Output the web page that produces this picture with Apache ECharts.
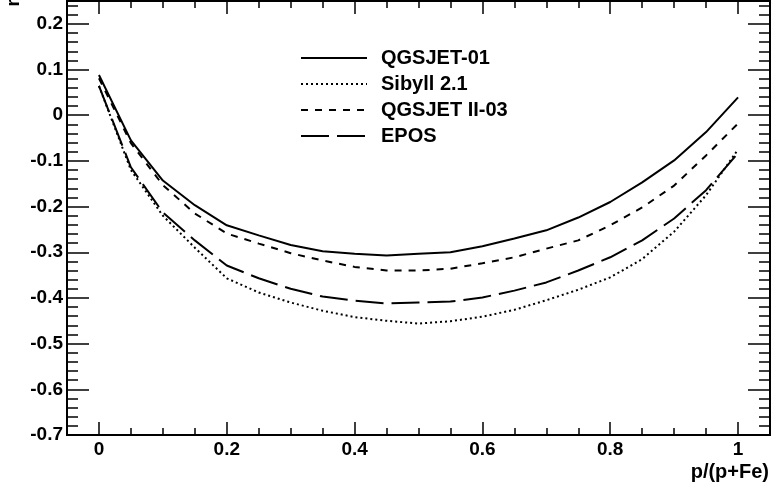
<!DOCTYPE html>
<html>
<head>
<meta charset="utf-8">
<script src="https://cdn.jsdelivr.net/npm/echarts@6/dist/echarts.min.js"></script>
<style>
  html, body { margin: 0; padding: 0; background: #fff; }
  #chart { width: 772px; height: 484px; }
</style>
</head>
<body>
<div id="chart"></div>
<script>
// fraction of protons, p/(p+Fe)
const xValues = [0, 0.05, 0.1, 0.15, 0.2, 0.25, 0.3, 0.35, 0.4, 0.45, 0.5,
  0.55, 0.6, 0.65, 0.7, 0.75, 0.8, 0.85, 0.9, 0.95, 1];

const qgsjet01 = [0.088, -0.055, -0.143, -0.197, -0.241, -0.263, -0.284, -0.298, -0.303, -0.307, -0.303,
  -0.300, -0.287, -0.270, -0.252, -0.224, -0.190, -0.147, -0.099, -0.037, 0.039];
const sibyll21 = [0.064, -0.120, -0.220, -0.290, -0.357, -0.388, -0.410, -0.428, -0.442, -0.450, -0.456,
  -0.451, -0.441, -0.426, -0.405, -0.382, -0.355, -0.315, -0.255, -0.175, -0.075];
const qgsjet2 = [0.081, -0.061, -0.153, -0.215, -0.259, -0.281, -0.302, -0.318, -0.332, -0.340, -0.340,
  -0.336, -0.324, -0.311, -0.292, -0.274, -0.241, -0.202, -0.154, -0.088, -0.018];
const epos = [0.064, -0.114, -0.213, -0.274, -0.329, -0.357, -0.380, -0.397, -0.406, -0.412, -0.410,
  -0.408, -0.399, -0.384, -0.366, -0.340, -0.311, -0.274, -0.226, -0.164, -0.083];

const seriesNames = ['QGSJET-01', 'Sibyll 2.1', 'QGSJET II-03', 'EPOS'];
const xTickValues = [0, 0.2, 0.4, 0.6, 0.8, 1];

const font = 'Liberation Sans';

function pairs(ys) {
  return xValues.map((x, i) => [x, ys[i]]);
}

function xAxisDef(position, major) {
  return {
    type: 'value',
    position: position,
    min: -0.05,
    max: 1.05,
    interval: major ? undefined : 0.05,
    axisLine: { show: false, onZero: false },
    splitLine: { show: false },
    axisTick: {
      show: true,
      inside: true,
      length: major ? 13 : 7,
      customValues: major ? xTickValues : undefined,
      lineStyle: { color: '#000', width: 1.5 }
    },
    axisLabel: {
      show: major && position === 'bottom',
      customValues: major ? xTickValues : undefined,
      margin: 5,
      color: '#000',
      fontFamily: font,
      fontWeight: 'bold',
      fontSize: 19
    }
  };
}

function yAxisDef(position, major) {
  return {
    type: 'value',
    position: position,
    min: -0.7,
    max: 0.25,
    interval: major ? 0.1 : 0.02,
    axisLine: { show: false, onZero: false },
    splitLine: { show: false },
    axisTick: {
      show: true,
      inside: true,
      length: major ? 22 : 11,
      lineStyle: { color: '#000', width: 1.5 }
    },
    axisLabel: {
      show: major && position === 'left',
      showMaxLabel: false,
      margin: 4,
      color: '#000',
      fontFamily: font,
      fontWeight: 'bold',
      fontSize: 19
    }
  };
}

function lineSeries(name, ys, type, width) {
  return {
    name: name,
    type: 'line',
    data: pairs(ys),
    symbol: 'none',
    smooth: false,
    color: '#000',
    lineStyle: { color: '#000', width: width, type: type }
  };
}

const xAxes = [xAxisDef('bottom', true), xAxisDef('bottom', false), xAxisDef('top', true), xAxisDef('top', false)];
xAxes[0].name = 'p/(p+Fe)';
xAxes[0].nameLocation = 'end';
xAxes[0].nameGap = -1;
xAxes[0].nameTextStyle = {
  color: '#000', fontFamily: font, fontWeight: 'bold', fontSize: 20,
  align: 'right', verticalAlign: 'top', padding: [27, 0, 0, 0]
};

const option = {
  animation: false,
  backgroundColor: '#fff',
  grid: {
    left: 67,
    right: 1,
    top: 1,
    bottom: 49,
    show: true,
    borderColor: '#000',
    borderWidth: 2,
    backgroundColor: 'transparent'
  },
  legend: {
    data: seriesNames,
    orient: 'vertical',
    left: 300,
    top: 48,
    padding: 0,
    itemWidth: 66,
    itemHeight: 14,
    itemGap: 6,
    itemStyle: { opacity: 0 },
    textStyle: {
      color: '#000',
      fontFamily: font,
      fontWeight: 'bold',
      fontSize: 20,
      lineHeight: 20,
      padding: [0, 0, 0, 9]
    }
  },
  graphic: [
    {
      type: 'text',
      x: 14,
      y: -1,
      rotation: Math.PI / 2,
      style: {
        text: 'r',
        fill: '#000',
        font: 'bold 19px "Liberation Sans"',
        textAlign: 'right',
        textVerticalAlign: 'middle'
      }
    }
  ],
  xAxis: xAxes,
  yAxis: [yAxisDef('left', true), yAxisDef('left', false), yAxisDef('right', true), yAxisDef('right', false)],
  series: [
    lineSeries(seriesNames[0], qgsjet01, 'solid', 2),
    lineSeries(seriesNames[1], sibyll21, [2, 3], 2),
    lineSeries(seriesNames[2], qgsjet2, [7, 7], 2),
    lineSeries(seriesNames[3], epos, [28, 8], 2)
  ]
};

const chart = echarts.init(document.getElementById('chart'));
chart.setOption(option);
window.addEventListener('resize', () => {
  chart.resize();
});
</script>
</body>
</html>
